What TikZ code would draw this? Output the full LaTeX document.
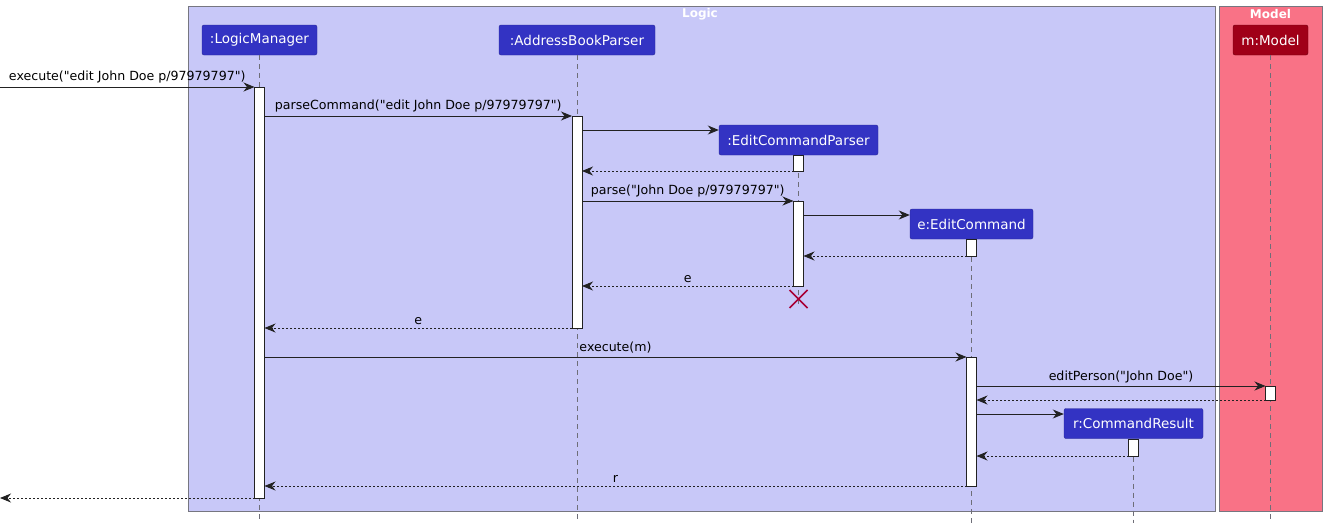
\documentclass[tikz,border=0pt]{standalone}
\usepackage{fontspec}
\setmainfont{DejaVu Sans}[Ligatures=TeXOff]
\usetikzlibrary{arrows.meta,calc}
\newcommand\dq{\symbol{34}}
\definecolor{logicbg}{RGB}{200,200,248}
\definecolor{modelbg}{RGB}{249,114,134}
\definecolor{framebd}{RGB}{118,118,128}
\definecolor{partfill}{RGB}{51,51,195}
\definecolor{partbd}{RGB}{40,40,150}
\definecolor{modelfill}{RGB}{160,0,24}
\definecolor{modelbd}{RGB}{110,0,16}
\definecolor{linecol}{RGB}{34,34,34}
\definecolor{destroycol}{RGB}{168,0,54}
\definecolor{lifecol}{RGB}{110,110,120}
\tikzset{
 frame/.style={draw=framebd, line width=0.9pt},
 frametitle/.style={text=white, font=\fontsize{12}{14}\selectfont\bfseries, inner sep=0pt},
 part/.style={draw=partbd, fill=partfill, rounded corners=2pt, text=white,
   font=\fontsize{13.5}{15}\selectfont, inner sep=0pt, minimum height=30pt},
 lifeline/.style={draw=lifecol, dash pattern=on 5pt off 4pt, line width=0.7pt},
 act/.style={draw=linecol, fill=white, line width=0.9pt},
 call/.style={draw=linecol, line width=0.9pt, -{Stealth[length=11pt,width=9pt,inset=3.5pt]}},
 ret/.style={call, dash pattern=on 2pt off 2pt},
 lbl/.style={font=\fontsize{12.6}{14}\selectfont, text=black, anchor=south, inner sep=0pt, yshift=3pt},
}
\begin{document}
\begin{tikzpicture}[x=1pt,y=-1pt]
\useasboundingbox (0,0) rectangle (1326,523);
% frames
\path[frame, fill=logicbg] (188.5,6.5) rectangle (1215.5,511.5);
\path[frame, fill=modelbg] (1219.5,6.5) rectangle (1322.5,511.5);
\node[frametitle] (tlogic) at (700,14) {Logic};
\node[frametitle] (tmodel) at (1270.5,14) {Model};
% participants
\node[part, minimum width=115pt] (lm) at (259.5,40) {:LogicManager};
\node[part, minimum width=156pt] (abp) at (577,40) {:AddressBookParser};
\node[part, minimum width=159pt] (ecp) at (798.5,140) {:EditCommandParser};
\node[part, minimum width=123pt] (ec) at (971.5,224) {e:EditCommand};
\node[part, minimum width=139pt] (cr) at (1133.5,423.5) {r:CommandResult};
\node[part, minimum width=75pt, fill=modelfill, draw=modelbd] (mm) at (1270.5,40) {m:Model};
% lifeline ends
\coordinate (lmE) at (259.5,523);
\coordinate (abpE) at (577,523);
\coordinate (ecpE) at (798.5,308);
\coordinate (ecE) at (971.5,523);
\coordinate (crE) at (1133.5,523);
\coordinate (mmE) at (1270.5,523);
\draw[lifeline] (lm.south) -- (lmE);
\draw[lifeline] (abp.south) -- (abpE);
\draw[lifeline] (ecp.south) -- (ecpE);
\draw[lifeline] (ec.south) -- (ecE);
\draw[lifeline] (cr.south) -- (crE);
\draw[lifeline] (mm.south) -- (mmE);
% activations
\path[act] (254.5,87) rectangle (264.5,498);
\path[act] (572,116) rectangle (582,328);
\path[act] (793.5,155) rectangle (803.5,171);
\path[act] (793.5,201) rectangle (803.5,286);
\path[act] (966.5,239) rectangle (976.5,256);
\path[act] (966.5,357) rectangle (976.5,486);
\path[act] (1128.5,439) rectangle (1138.5,456);
\path[act] (1265.5,386) rectangle (1275.5,400);
% message endpoints
\coordinate (in0) at (0,87);   \coordinate (in1) at (254.5,87);
\coordinate (a0) at (264.5,116); \coordinate (a1) at (572,116);
\coordinate (b0) at (582,130); \coordinate (b1) at (ecp.west |- 0,130);
\coordinate (c0) at (793.5,171); \coordinate (c1) at (582,171);
\coordinate (d0) at (582,201); \coordinate (d1) at (793.5,201);
\coordinate (e0) at (803.5,215); \coordinate (e1) at (ec.west |- 0,215);
\coordinate (f0) at (966.5,256); \coordinate (f1) at (803.5,256);
\coordinate (g0) at (793.5,286); \coordinate (g1) at (582,286);
\coordinate (h0) at (572,328); \coordinate (h1) at (264.5,328);
\coordinate (i0) at (264.5,357); \coordinate (i1) at (966.5,357);
\coordinate (j0) at (976.5,386); \coordinate (j1) at (1265.5,386);
\coordinate (k0) at (1265.5,400); \coordinate (k1) at (976.5,400);
\coordinate (l0) at (976.5,414); \coordinate (l1) at (cr.west |- 0,414);
\coordinate (n0) at (1128.5,456); \coordinate (n1) at (976.5,456);
\coordinate (o0) at (966.5,486); \coordinate (o1) at (264.5,486);
\coordinate (p0) at (254.5,498); \coordinate (p1) at (0,498);
% messages
\draw[call] (in0) -- node[lbl] {execute(\dq edit John Doe p/97979797\dq)} (in1);
\draw[call] (a0) -- node[lbl] {parseCommand(\dq edit John Doe p/97979797\dq)} (a1);
\draw[call] (b0) -- (b1);
\draw[ret] (c0) -- (c1);
\draw[call] (d0) -- node[lbl] {parse(\dq John Doe p/97979797\dq)} (d1);
\draw[call] (e0) -- (e1);
\draw[ret] (f0) -- (f1);
\draw[ret] (g0) -- node[lbl] {e} (g1);
\draw[ret] (h0) -- node[lbl] {e} (h1);
\draw[call] (i0) -- node[lbl] {execute(m)} (i1);
\draw[call] (j0) -- node[lbl] {editPerson(\dq John Doe\dq)} (j1);
\draw[ret] (k0) -- (k1);
\draw[call] (l0) -- (l1);
\draw[ret] (n0) -- (n1);
\draw[ret] (o0) -- node[lbl] {r} (o1);
\draw[ret] (p0) -- (p1);
% destroy
\coordinate (x0) at (798.5,299);
\draw[destroycol, line width=1.5pt] ($(x0)+(-9,-9)$) -- ($(x0)+(9,9)$) ($(x0)+(-9,9)$) -- ($(x0)+(9,-9)$);
\end{tikzpicture}
\end{document}
